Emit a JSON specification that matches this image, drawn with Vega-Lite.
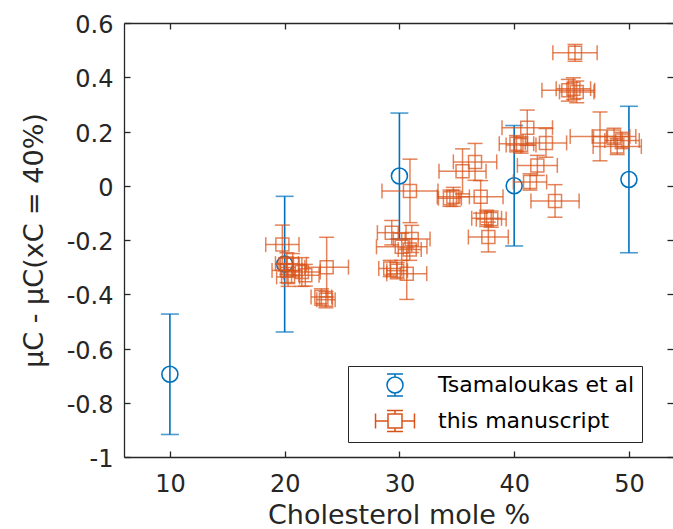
{
  "$schema": "https://vega.github.io/schema/vega-lite/v6.json",
  "autosize": {"type": "none"},
  "padding": {"left": 124, "top": 23, "right": 0, "bottom": 72},
  "width": 549,
  "height": 434,
  "background": "white",
  "view": {"stroke": null},
  "data": {
    "values": [
      {"s": "Tsamaloukas et al", "x": 10, "y": -0.695, "ey": 0.222},
      {"s": "Tsamaloukas et al", "x": 20, "y": -0.289, "ey": 0.25},
      {"s": "Tsamaloukas et al", "x": 30, "y": 0.036, "ey": 0.232},
      {"s": "Tsamaloukas et al", "x": 40, "y": 0.0, "ey": 0.222},
      {"s": "Tsamaloukas et al", "x": 50, "y": 0.023, "ey": 0.27},
      {"s": "this manuscript", "x": 19.8, "y": -0.217, "ex": 1.45, "ey": 0.072},
      {"s": "this manuscript", "x": 20.2, "y": -0.287, "ex": 1.0, "ey": 0.04},
      {"s": "this manuscript", "x": 20.7, "y": -0.29, "ex": 1.2, "ey": 0.04},
      {"s": "this manuscript", "x": 20.2, "y": -0.312, "ex": 1.3, "ey": 0.045},
      {"s": "this manuscript", "x": 20.3, "y": -0.336, "ex": 1.0, "ey": 0.035},
      {"s": "this manuscript", "x": 21.5, "y": -0.318, "ex": 1.6, "ey": 0.053},
      {"s": "this manuscript", "x": 21.8, "y": -0.33, "ex": 1.2, "ey": 0.04},
      {"s": "this manuscript", "x": 23.66, "y": -0.3, "ex": 1.9, "ey": 0.11},
      {"s": "this manuscript", "x": 23.2, "y": -0.41, "ex": 0.9, "ey": 0.03},
      {"s": "this manuscript", "x": 23.6, "y": -0.42, "ex": 0.8, "ey": 0.03},
      {"s": "this manuscript", "x": 30.92, "y": -0.019, "ex": 2.44, "ey": 0.117},
      {"s": "this manuscript", "x": 29.33, "y": -0.173, "ex": 1.25, "ey": 0.045},
      {"s": "this manuscript", "x": 31.07, "y": -0.196, "ex": 1.6, "ey": 0.05},
      {"s": "this manuscript", "x": 30.2, "y": -0.225, "ex": 2.2, "ey": 0.05},
      {"s": "this manuscript", "x": 30.9, "y": -0.235, "ex": 1.0, "ey": 0.04},
      {"s": "this manuscript", "x": 29.2, "y": -0.305, "ex": 1.0, "ey": 0.03},
      {"s": "this manuscript", "x": 29.8, "y": -0.313, "ex": 0.9, "ey": 0.03},
      {"s": "this manuscript", "x": 30.64, "y": -0.324, "ex": 1.74, "ey": 0.095},
      {"s": "this manuscript", "x": 36.59, "y": 0.088, "ex": 1.89, "ey": 0.068},
      {"s": "this manuscript", "x": 35.5, "y": 0.053, "ex": 2.05, "ey": 0.083},
      {"s": "this manuscript", "x": 34.7, "y": -0.041, "ex": 1.4, "ey": 0.035},
      {"s": "this manuscript", "x": 34.4, "y": -0.046, "ex": 1.0, "ey": 0.03},
      {"s": "this manuscript", "x": 37.08, "y": -0.041, "ex": 1.95, "ey": 0.06},
      {"s": "this manuscript", "x": 37.6, "y": -0.12, "ex": 1.3, "ey": 0.03},
      {"s": "this manuscript", "x": 38.0, "y": -0.123, "ex": 1.3, "ey": 0.03},
      {"s": "this manuscript", "x": 37.75, "y": -0.189, "ex": 1.74, "ey": 0.055},
      {"s": "this manuscript", "x": 40.2, "y": 0.155, "ex": 1.5, "ey": 0.03},
      {"s": "this manuscript", "x": 40.6, "y": 0.15, "ex": 1.3, "ey": 0.03},
      {"s": "this manuscript", "x": 41.14, "y": 0.214, "ex": 2.2, "ey": 0.065},
      {"s": "this manuscript", "x": 42.77, "y": 0.158, "ex": 1.8, "ey": 0.053},
      {"s": "this manuscript", "x": 42.02, "y": 0.075, "ex": 1.74, "ey": 0.037},
      {"s": "this manuscript", "x": 41.38, "y": 0.014, "ex": 1.45, "ey": 0.03},
      {"s": "this manuscript", "x": 43.56, "y": -0.056, "ex": 2.1, "ey": 0.06},
      {"s": "this manuscript", "x": 45.3, "y": 0.49, "ex": 1.93, "ey": 0.031},
      {"s": "this manuscript", "x": 44.72, "y": 0.352, "ex": 2.3, "ey": 0.04},
      {"s": "this manuscript", "x": 45.16, "y": 0.358, "ex": 1.5, "ey": 0.04},
      {"s": "this manuscript", "x": 45.45, "y": 0.346, "ex": 1.5, "ey": 0.04},
      {"s": "this manuscript", "x": 47.48, "y": 0.182, "ex": 2.6, "ey": 0.09},
      {"s": "this manuscript", "x": 48.7, "y": 0.182, "ex": 1.9, "ey": 0.03},
      {"s": "this manuscript", "x": 48.98, "y": 0.145, "ex": 2.1, "ey": 0.03},
      {"s": "this manuscript", "x": 49.4, "y": 0.167, "ex": 1.5, "ey": 0.03}
    ]
  },
  "encoding": {
    "x": {"field": "x", "type": "quantitative", "scale": {"domain": [6, 53.84], "nice": false, "zero": false}, "axis": null},
    "y": {"field": "y", "type": "quantitative", "scale": {"domain": [-1, 0.6], "nice": false, "zero": false}, "axis": null}
  },
  "layer": [
    {
      "transform": [{"filter": "datum.s == 'Tsamaloukas et al'"}],
      "mark": {"type": "errorbar", "color": "#0072BD", "thickness": 1.6, "ticks": {"size": 18, "thickness": 1.6}},
      "encoding": {"yError": {"field": "ey"}}
    },
    {
      "transform": [{"filter": "datum.s == 'Tsamaloukas et al'"}],
      "mark": {"type": "point", "shape": "circle", "filled": false, "color": "#0072BD", "size": 256, "strokeWidth": 1.6, "opacity": 1},
      "encoding": {
        "x": {"field": "x", "type": "quantitative", "scale": {"domain": [6, 53.84], "nice": false, "zero": false},
          "axis": {"orient": "bottom", "values": [10, 20, 30, 40, 50], "grid": false, "title": "Cholesterol mole %",
            "domainColor": "#262626", "domainWidth": 1.3, "tickColor": "#262626", "tickWidth": 1.3, "tickSize": -6,
            "labelPadding": 21, "labelFont": "DejaVu Sans", "labelFontSize": 24, "labelColor": "#262626", "labelFlush": false, "labelOverlap": false,
            "titleFont": "DejaVu Sans", "titleFontSize": 27, "titleFontWeight": "normal", "titleColor": "#262626", "titleBaseline": "alphabetic", "titleY": 66}},
        "y": {"field": "y", "type": "quantitative", "scale": {"domain": [-1, 0.6], "nice": false, "zero": false},
          "axis": {"orient": "left", "values": [-1, -0.8, -0.6, -0.4, -0.2, 0, 0.2, 0.4, 0.6], "grid": false, "title": "μC - μC(xC = 40%)",
            "labelExpr": "'' + round(datum.value * 10) / 10",
            "domainColor": "#262626", "domainWidth": 1.3, "tickColor": "#262626", "tickWidth": 1.3, "tickSize": -6,
            "labelPadding": 17, "labelOffset": 2.5, "labelFont": "DejaVu Sans", "labelFontSize": 24, "labelColor": "#262626", "labelFlush": false, "labelOverlap": false,
            "titleFont": "DejaVu Sans", "titleFontSize": 27, "titleFontWeight": "normal", "titleColor": "#262626", "titleBaseline": "alphabetic", "titleX": -82}}
      }
    },
    {
      "transform": [{"filter": "datum.s == 'this manuscript'"}],
      "mark": {"type": "errorbar", "color": "#D95319", "opacity": 0.72, "thickness": 1.5, "ticks": {"size": 15, "thickness": 1.5}},
      "encoding": {"yError": {"field": "ey"}}
    },
    {
      "transform": [{"filter": "datum.s == 'this manuscript'"}],
      "mark": {"type": "errorbar", "color": "#D95319", "opacity": 0.72, "thickness": 1.5, "ticks": {"size": 15, "thickness": 1.5}},
      "encoding": {"xError": {"field": "ex"}}
    },
    {
      "transform": [{"filter": "datum.s == 'this manuscript'"}],
      "mark": {"type": "point", "shape": "square", "filled": false, "color": "#D95319", "size": 169, "strokeWidth": 1.5, "opacity": 0.72},
      "encoding": {
        "x": {"field": "x", "type": "quantitative", "scale": {"domain": [6, 53.84], "nice": false, "zero": false},
          "axis": {"orient": "top", "values": [10, 20, 30, 40, 50], "grid": false, "title": null, "labels": false,
            "domainColor": "#262626", "domainWidth": 1.3, "tickColor": "#262626", "tickWidth": 1.3, "tickSize": -6}},
        "y": {"field": "y", "type": "quantitative", "scale": {"domain": [-1, 0.6], "nice": false, "zero": false},
          "axis": {"orient": "right", "values": [-1, -0.8, -0.6, -0.4, -0.2, 0, 0.2, 0.4, 0.6], "grid": false, "title": null, "labels": false,
            "domain": false, "tickColor": "#262626", "tickWidth": 1.3, "tickSize": -6}}
      }
    },
    {
      "mark": {"type": "point", "filled": false, "opacity": 0},
      "encoding": {
        "color": {"field": "s", "type": "nominal",
          "scale": {"domain": ["Tsamaloukas et al", "this manuscript"], "range": ["#0072BD", "#D95319"]},
          "legend": {"orient": "none", "legendX": 224, "legendY": 343, "title": null, "symbolSize": 484, "symbolStrokeWidth": 1.5, "symbolOpacity": 1,
            "labelFont": "DejaVu Sans", "labelFontSize": 22, "labelColor": "#000000", "labelLimit": 400,
            "padding": 7, "rowPadding": 8, "symbolOffset": 28, "labelOffset": 31, "strokeColor": "#262626", "fillColor": "white"}},
        "shape": {"field": "s", "type": "nominal",
          "scale": {"domain": ["Tsamaloukas et al", "this manuscript"], "range": [
            "M-0.727,0 A0.727,0.727 0 1,0 0.727,0 A0.727,0.727 0 1,0 -0.727,0 Z M0,-0.727 L0,-1 M-0.727,-1 L0.727,-1 M0,0.727 L0,1 M-0.727,1 L0.727,1",
            "M-0.636,-0.636 L0.636,-0.636 L0.636,0.636 L-0.636,0.636 Z M0,-0.636 L0,-0.95 M-0.73,-0.95 L0.73,-0.95 M0,0.636 L0,0.95 M-0.73,0.95 L0.73,0.95 M-0.636,0 L-1.77,0 M-1.77,-0.68 L-1.77,0.68 M0.636,0 L1.77,0 M1.77,-0.68 L1.77,0.68"
          ]},
          "legend": {"orient": "none", "legendX": 224, "legendY": 343, "title": null, "symbolSize": 484, "symbolStrokeWidth": 1.5, "symbolOpacity": 1,
            "labelFont": "DejaVu Sans", "labelFontSize": 22, "labelColor": "#000000", "labelLimit": 400,
            "padding": 7, "rowPadding": 8, "symbolOffset": 28, "labelOffset": 31, "strokeColor": "#262626", "fillColor": "white"}}
      }
    }
  ],
  "resolve": {"axis": {"x": "independent", "y": "independent"}}
}
